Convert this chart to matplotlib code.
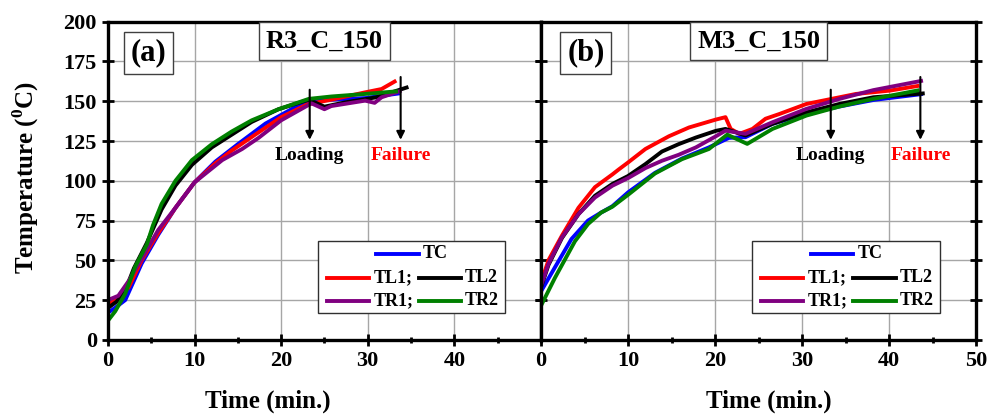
import matplotlib.pyplot as plt
from matplotlib.patches import Rectangle
from matplotlib.lines import Line2D
from matplotlib.ticker import MultipleLocator

plt.rcParams['font.family'] = 'Liberation Serif'
plt.rcParams['font.weight'] = 'bold'
plt.rcParams['mathtext.fontset'] = 'custom'
plt.rcParams['mathtext.rm'] = 'Liberation Serif:bold'
plt.rcParams['mathtext.bf'] = 'Liberation Serif:bold'

# ---- (a) R3_C_150 ----
tc_a_t = [0, 0.8, 2, 3.9, 5.8, 7.8, 10, 12.4, 15, 18.2, 21.2, 23.2, 25.8, 29.7, 33.7]
tc_a_T = [17, 20, 25, 48, 66, 83, 99, 112, 123, 136, 145, 150, 151, 152, 155]
tl1_a_t = [0, 1.2, 2.4, 3.9, 5.8, 7.8, 10, 12.4, 14.3, 17, 20, 23, 25.8, 29.7, 31.6, 33.3]
tl1_a_T = [22, 26.7, 33, 50, 67, 83, 99, 111, 119, 129, 140, 148, 151, 155.6, 157.7, 163]
tl2_a_t = [0, 1, 2, 3, 4.5, 6.2, 7.8, 9.7, 12, 14.3, 16.6, 19.7, 23.2, 25, 27.5, 31, 34.7]
tl2_a_T = [20, 24, 31, 45, 61, 82, 97, 110, 121, 129, 137, 145, 151, 146.6, 149.4, 152.5, 159]
tr1_a_t = [0, 1.2, 2.4, 3.9, 5.8, 7.8, 10, 13.2, 15.5, 17.4, 20, 23.5, 25, 25.8, 29.7, 30.8, 31.6, 33.9]
tr1_a_T = [25, 27.7, 37, 51, 69, 83, 99, 113, 120, 127, 138, 148.7, 145, 147, 150.4, 149, 152.5, 156.7]
tr2_a_t = [0, 0.85, 2, 3.15, 4.5, 5.2, 6.2, 7.8, 9.7, 12, 14.3, 16.6, 19.7, 23.2, 25.8, 29.7, 33.5]
tr2_a_T = [12, 18, 29, 46, 60, 72, 85.5, 100, 113, 123, 131, 138, 145, 151.5, 153, 154.6, 156.3]

# ---- (b) M3_C_150 ----
tc_b_t = [0, 1.6, 3.5, 5.4, 6.9, 8.2, 10, 13.1, 16.2, 19.3, 21.6, 23.5, 26.6, 30.5, 34.3, 38.2, 43.9]
tc_b_T = [30.5, 45.6, 63.4, 75, 80, 84, 92.7, 105, 114, 121, 127, 127.4, 135.8, 142, 146.7, 150.8, 154.6]
tl1_b_t = [0, 0.85, 2.4, 4.3, 6.2, 8.2, 8.9, 10, 12, 14.7, 17, 20.1, 21.2, 21.8, 22.8, 24.3, 25.8, 27.4, 30.5, 32.4, 36.2, 40.1, 43.5]
tl1_b_T = [36, 50, 65.5, 83, 96, 104, 107, 111.5, 120, 128, 133.5, 138.5, 140, 132.6, 129.5, 132.6, 139, 142, 148.3, 150.4, 154.6, 156.7, 159.8]
tl2_b_t = [0, 0.85, 2.4, 4.3, 6.2, 8.2, 10, 12, 13.9, 15.8, 17.8, 20.1, 21.2, 23.5, 26.6, 30.5, 34.3, 38.2, 44.1]
tl2_b_T = [33, 47, 64, 79, 90.6, 98, 103, 110.5, 118.4, 123, 127.2, 131.4, 132.6, 128.5, 135.8, 143, 148.3, 152.5, 155]
tr1_b_t = [0, 0.85, 2.4, 4.3, 6.2, 8.2, 10.1, 12, 13.9, 15.8, 17.8, 20.1, 21.2, 23.5, 26.6, 30.5, 34.3, 38.2, 43.9]
tr1_b_T = [34, 47.7, 64.4, 79, 89.5, 96.9, 102, 108, 112.6, 116.3, 121, 128, 131.5, 129.5, 136.8, 145.2, 151.5, 157, 163]
tr2_b_t = [0, 1.6, 3.9, 5.4, 6.9, 8.2, 10.1, 13.1, 16.2, 19.3, 21.4, 23.7, 26.6, 30.5, 34.3, 38.2, 43.5]
tr2_b_T = [21.5, 39, 62, 72.8, 80, 83.7, 91.6, 104.6, 113.6, 120, 129, 123.2, 132.6, 141, 146.7, 151.5, 157]

names = ['TC', 'TL1', 'TL2', 'TR1', 'TR2']
colors = ['#0000ff', '#ff0000', '#000000', '#800080', '#008000']

panels = [
    dict(tag='(a)', title='R3_C_150',
         series=[(tc_a_t, tc_a_T), (tl1_a_t, tl1_a_T), (tl2_a_t, tl2_a_T),
                 (tr1_a_t, tr1_a_T), (tr2_a_t, tr2_a_T)],
         loading=23.3, failure=33.8, xticks=[0, 10, 20, 30, 40]),
    dict(tag='(b)', title='M3_C_150',
         series=[(tc_b_t, tc_b_T), (tl1_b_t, tl1_b_T), (tl2_b_t, tl2_b_T),
                 (tr1_b_t, tr1_b_T), (tr2_b_t, tr2_b_T)],
         loading=33.3, failure=43.6, xticks=[0, 10, 20, 30, 40, 50]),
]

fig = plt.figure(figsize=(9.9, 4.18), dpi=100)
ax_a = fig.add_axes([0.109, 0.187, 0.4374, 0.761])
ax_b = fig.add_axes([0.5465, 0.187, 0.4394, 0.761])

for ax, p in zip([ax_a, ax_b], panels):
    ax.set_xlim(0, 50)
    ax.set_ylim(0, 200)
    ax.set_xticks(p['xticks'])
    ax.xaxis.set_minor_locator(MultipleLocator(5))
    ax.set_yticks(range(0, 201, 25))
    ax.grid(True, which='major', color='#a6a6a6', lw=1.0)
    ax.set_axisbelow(True)
    for s in ax.spines.values():
        s.set_linewidth(2.4)
    ax.tick_params(which='major', direction='inout', length=8, width=2,
                   labelsize=16, right=True, pad=4)
    ax.tick_params(which='minor', direction='inout', length=4, width=2)

    for (t, T), c in zip(p['series'], colors):
        ax.plot(t, T, color=c, lw=2.8, solid_capstyle='butt')

    # panel tags
    ax.text(0.094 if ax is ax_a else 0.103, 0.902, p['tag'], transform=ax.transAxes,
            ha='center', va='center', fontsize=22, fontweight='bold',
            bbox=dict(boxstyle='square,pad=0.22', fc='white', ec='#404040', lw=1))
    ax.text(0.5, 0.94, p['title'], transform=ax.transAxes,
            ha='center', va='center', fontsize=19, fontweight='bold',
            bbox=dict(boxstyle='square,pad=0.28', fc='white', ec='#404040', lw=1))

    # loading / failure markers
    for x, label, col in [(p['loading'], 'Loading', 'black'),
                          (p['failure'], 'Failure', 'red')]:
        top = 159 if label == 'Loading' else 167
        ax.annotate('', xy=(x, 124), xytext=(x, top),
                    arrowprops=dict(arrowstyle='-|>', color='black', lw=1.5,
                                    mutation_scale=12))
        ax.text(x, 116, label, color=col, ha='center', va='center',
                fontsize=14, fontweight='bold')

    # legend box
    x0, x1, y0, y1 = 0.485, 0.917, 0.085, 0.311
    ax.add_patch(Rectangle((x0, y0), x1 - x0, y1 - y0, transform=ax.transAxes,
                           fc='white', ec='#303030', lw=1, zorder=5))
    rows = [
        [(0.62, 0.718, 0, 'TC')],
        [(0.506, 0.603, 1, 'TL1;'), (0.718, 0.815, 2, 'TL2')],
        [(0.506, 0.603, 3, 'TR1;'), (0.718, 0.815, 4, 'TR2')],
    ]
    for yy, row in zip([0.27, 0.195, 0.123], rows):
        for lx0, lx1, idx, txt in row:
            ax.add_line(Line2D([lx0, lx1], [yy, yy], transform=ax.transAxes,
                               color=colors[idx], lw=2.8, zorder=6))
            ax.text(lx1 + 0.01, yy, txt, transform=ax.transAxes, ha='left',
                    va='center', fontsize=13, fontweight='bold', zorder=6)

ax_b.tick_params(labelleft=False)

ax_a.set_xlabel('Time (min.)', fontsize=18, fontweight='bold')
ax_a.xaxis.set_label_coords(0.37, -0.155)
ax_b.set_xlabel('Time (min.)', fontsize=18, fontweight='bold')
ax_b.xaxis.set_label_coords(0.524, -0.155)
ax_a.set_ylabel(r'Temperature ($^\mathbf{0}$C)', fontsize=18, fontweight='bold')
ax_a.yaxis.set_label_coords(-0.155, 0.51)

fig.savefig('out.png', dpi=100)
